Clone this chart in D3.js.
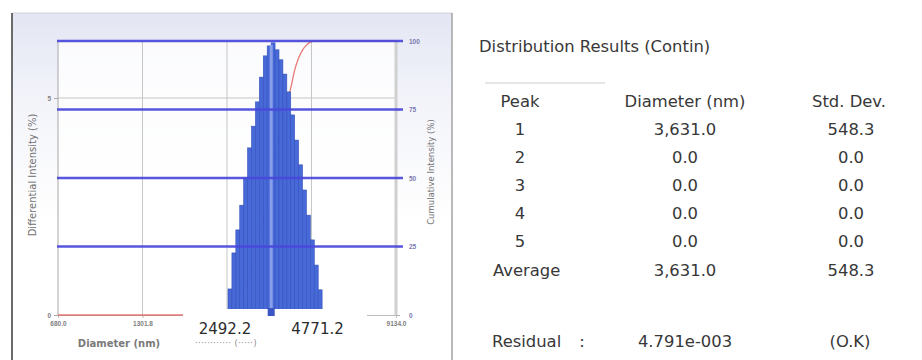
<!DOCTYPE html>
<html>
<head>
<meta charset="utf-8">
<script src="https://cdn.jsdelivr.net/npm/d3@7"></script>
<style>
  html, body { margin: 0; padding: 0; background: #fff; }
  svg { display: block; font-family: "DejaVu Sans", Verdana, sans-serif; }
</style>
</head>
<body>
<svg id="chart" width="922" height="360"></svg>
<script>
// ---- size distribution (intensity) ----
// bin edges, nm (log spaced)
const binEdges = [2511.4, 2588.2, 2667.4, 2749.0, 2833.1, 2919.8, 3009.1, 3101.2, 3196.1,
  3293.9, 3394.7, 3498.6, 3605.6, 3715.9, 3829.6, 3946.8, 4067.5, 4192.0, 4320.3,
  4452.5, 4588.7, 4729.1, 4873.8, 5022.9, 5176.6];
// differential intensity per bin, %
const intensity = [0.60, 1.43, 1.96, 2.53, 3.16, 3.85, 4.35, 4.91, 5.48, 5.97, 6.20, 6.27,
  6.11, 5.88, 5.55, 5.14, 4.61, 4.03, 3.46, 2.88, 2.30, 1.73, 1.15, 0.58];
// cumulative intensity, %
const cumDiameter = [680.0, 2511.4, 2588.2, 2667.4, 2749.0, 2833.1, 2919.8, 3009.1, 3101.2,
  3196.1, 3293.9, 3394.7, 3498.6, 3605.6, 3715.9, 3829.6, 3946.8, 4067.5, 4192.0, 4320.3,
  4452.5, 4588.7, 4729.1, 4873.8, 5022.9, 5176.6, 9134.0];
const cumulative = [0, 0, 0.8, 2.5, 4.8, 7.8, 11.5, 16.0, 21.2, 27.2, 34.0, 41.5, 49.5, 57.5,
  65.2, 72.0, 77.8, 82.8, 89.4, 93.8, 96.7, 98.5, 99.6, 100, 100, 100, 100];
const modeDiameter = 3500;

// axis ticks
const xTicks = [680.0, 1301.8, 2492.2, 4771.2, 9134.0];
const xTickLabels = ["680.0", "1301.8", "2492.2", "4771.2", "9134.0"];
const markedTicks = [2492.2, 4771.2];
const leftTicks = [0, 5];
const rightTicks = [0, 25, 50, 75, 100];

// ---- results table ----
const tableTitle = "Distribution Results (Contin)";
const tableHeaders = ["Peak", "Diameter (nm)", "Std. Dev."];
const peakLabels = ["1", "2", "3", "4", "5", "Average"];
const peakDiameters = [3631.0, 0.0, 0.0, 0.0, 0.0, 3631.0];
const peakStdDevs = [548.3, 0.0, 0.0, 0.0, 0.0, 548.3];
const residualValue = "4.791e-003";
const residualStatus = "(O.K)";

const svg = d3.select("#chart");

// ---------- panel ----------
const defs = svg.append("defs");
const grad = defs.append("linearGradient").attr("id", "panelFill")
  .attr("x1", 0).attr("y1", 0).attr("x2", 0).attr("y2", 1);
grad.append("stop").attr("offset", 0).attr("stop-color", "#e3e6f3");
grad.append("stop").attr("offset", 0.25).attr("stop-color", "#f3f4fa");
grad.append("stop").attr("offset", 0.6).attr("stop-color", "#ffffff");

const panel = { left: 12, top: 13, right: 452, bottom: 362 };
svg.append("rect").attr("x", panel.left).attr("y", panel.top)
  .attr("width", panel.right - panel.left).attr("height", panel.bottom - panel.top)
  .attr("fill", "url(#panelFill)");
svg.append("line").attr("x1", panel.left).attr("x2", panel.right)
  .attr("y1", panel.top).attr("y2", panel.top).attr("stroke", "#cfd2dc");
svg.append("line").attr("x1", panel.left).attr("x2", panel.left)
  .attr("y1", panel.top).attr("y2", panel.bottom).attr("stroke", "#6b6b6b").attr("stroke-width", 2);
svg.append("line").attr("x1", panel.right).attr("x2", panel.right)
  .attr("y1", panel.top).attr("y2", panel.bottom).attr("stroke", "#a3a3a3").attr("stroke-width", 1.5);

// ---------- scales ----------
const plot = { left: 58, right: 396, top: 41, bottom: 315 };
const x = d3.scaleLog().domain([680.0, 9134.0]).range([plot.left, plot.right]);
const yL = d3.scaleLinear().domain([0, 6.313]).range([plot.bottom, plot.top]);
const yR = d3.scaleLinear().domain([0, 100]).range([plot.bottom, plot.top]);

svg.append("rect").attr("x", plot.left).attr("y", plot.top)
  .attr("width", plot.right - plot.left).attr("height", plot.bottom - plot.top)
  .attr("fill", "#ffffff").attr("opacity", 0.8);

// grey grid
const grid = svg.append("g").attr("stroke", "#c6c6c6").attr("stroke-width", 1);
grid.selectAll("line.v").data(xTicks.slice(1, -1)).join("line")
  .attr("x1", d => x(d)).attr("x2", d => x(d))
  .attr("y1", plot.top).attr("y2", plot.bottom);
grid.selectAll("line.h").data(leftTicks.filter(d => d > 0)).join("line")
  .attr("x1", plot.left).attr("x2", plot.right)
  .attr("y1", d => yL(d)).attr("y2", d => yL(d));

// axes (the two marked ticks get enlarged labels further down)
const fmtTick = d => markedTicks.includes(d) ? "" : xTickLabels[xTicks.indexOf(d)];
const xAxis = svg.append("g").attr("transform", `translate(0,${plot.bottom})`)
  .call(d3.axisBottom(x).tickValues(xTicks).tickFormat(fmtTick).tickSize(3).tickPadding(3));
xAxis.select(".domain").attr("stroke", "#bdbdbd");
xAxis.selectAll(".tick line").attr("stroke", "#bdbdbd");
xAxis.selectAll("text").attr("font-size", 6.5).attr("font-weight", "bold").attr("fill", "#808080");

const lAxis = svg.append("g").attr("transform", `translate(${plot.left},0)`)
  .call(d3.axisLeft(yL).tickValues(leftTicks).tickFormat(d3.format("d")).tickSize(4).tickPadding(3));
lAxis.select(".domain").attr("stroke", "#a8a8a8").attr("d", `M0,${plot.top}V${plot.bottom}`);
lAxis.selectAll(".tick line").attr("stroke", "#a8a8a8");
lAxis.selectAll("text").attr("font-size", 6.5).attr("font-weight", "bold").attr("fill", "#808080");

const rAxis = svg.append("g").attr("transform", `translate(${plot.right},0)`)
  .call(d3.axisRight(yR).tickValues(rightTicks).tickFormat(d3.format("d")).tickSize(4).tickPadding(9));
rAxis.select(".domain").attr("stroke", "#d0d0d0").attr("stroke-width", 3)
  .attr("d", `M0,${plot.top}V${plot.bottom}`);
rAxis.selectAll(".tick line").attr("stroke", "#b0b0b0");
rAxis.selectAll("text").attr("font-size", 6.5).attr("font-weight", "bold").attr("fill", "#7a7ab0");

// cumulative curve (behind the histogram)
const cumLine = d3.line()
  .x((d, i) => x(cumDiameter[i]))
  .y(d => yR(d))
  .curve(d3.curveMonotoneX);
svg.append("path").attr("d", cumLine(cumulative))
  .attr("fill", "none").attr("stroke", "#e2504c").attr("stroke-width", 1.3).attr("opacity", 0.75);

// histogram
svg.append("g").selectAll("rect").data(intensity).join("rect")
  .attr("x", (d, i) => x(binEdges[i]))
  .attr("width", (d, i) => x(binEdges[i + 1]) - x(binEdges[i]))
  .attr("y", d => yL(d))
  .attr("height", d => yL(0) - yL(d))
  .attr("fill", "#4869d8").attr("stroke", "#3250ba").attr("stroke-width", 0.6);

// mode marker through the histogram
const peakIdx = intensity.indexOf(d3.max(intensity));
svg.append("rect")
  .attr("x", x(modeDiameter) - 1.5).attr("width", 3)
  .attr("y", yL(intensity[peakIdx]) + 2).attr("height", yL(0) - yL(intensity[peakIdx]) - 2)
  .attr("fill", "#9fb4f2").attr("opacity", 0.75);

// blue cumulative grid lines
svg.append("g").selectAll("line").data(rightTicks.filter(d => d > 0)).join("line")
  .attr("x1", plot.left - 1).attr("x2", plot.right + 7)
  .attr("y1", d => yR(d)).attr("y2", d => yR(d))
  .attr("stroke", "#4a48dc").attr("stroke-width", 2.6).attr("opacity", 0.92);

// label backdrop along the lower axis
svg.append("rect").attr("x", 183).attr("y", plot.bottom - 6)
  .attr("width", 184).attr("height", 46).attr("fill", "#ffffff");
svg.append("rect")
  .attr("x", x(modeDiameter) - 3.5).attr("width", 7)
  .attr("y", plot.bottom - 7).attr("height", 8)
  .attr("fill", "#3a55c4");

// enlarged tick values
svg.append("g").selectAll("text").data(markedTicks).join("text")
  .attr("x", (d, i) => x(d) + (i === 0 ? -2 : 6))
  .attr("y", 334)
  .attr("text-anchor", "middle")
  .attr("font-size", 15).attr("fill", "#2b2b2b")
  .text(d => xTickLabels[xTicks.indexOf(d)]);

// axis titles
svg.append("text").attr("x", 119).attr("y", 347).attr("text-anchor", "middle")
  .attr("font-size", 10).attr("font-weight", "bold").attr("fill", "#7a7a7a").text("Diameter (nm)");
svg.append("text").attr("x", 226).attr("y", 346).attr("text-anchor", "middle")
  .attr("font-size", 8).attr("fill", "#888").attr("letter-spacing", 0.5)
  .text("············ (·····)");
svg.append("text")
  .attr("transform", "translate(36,175) rotate(-90)")
  .attr("text-anchor", "middle").attr("font-size", 10).attr("fill", "#707070")
  .text("Differential Intensity (%)");
svg.append("text")
  .attr("transform", "translate(434,172) rotate(-90)")
  .attr("text-anchor", "middle").attr("font-size", 8.5).attr("fill", "#707070")
  .text("Cumulative Intensity (%)");

// ---------- results table ----------
const T = svg.append("g").attr("font-size", 16.4).attr("fill", "#383838");
T.append("text").attr("x", 479).attr("y", 52).text(tableTitle);
T.append("line").attr("x1", 485).attr("x2", 605).attr("y1", 83).attr("y2", 83)
  .attr("stroke", "#cccccc");

const colX = [520, 685, 849];
T.selectAll("text.hdr").data(tableHeaders).join("text").attr("class", "hdr")
  .attr("x", (d, i) => colX[i]).attr("y", 107).attr("text-anchor", "middle").text(d => d);

const rowY = i => 135 + i * 28.1;
const fmt = d3.format(",.1f");
T.selectAll("text.lab").data(peakLabels).join("text").attr("class", "lab")
  .attr("x", d => d === "Average" ? 493 : colX[0])
  .attr("text-anchor", d => d === "Average" ? "start" : "middle")
  .attr("y", (d, i) => rowY(i)).text(d => d);
T.selectAll("text.dia").data(peakDiameters).join("text").attr("class", "dia")
  .attr("x", colX[1]).attr("y", (d, i) => rowY(i)).attr("text-anchor", "middle").text(fmt);
T.selectAll("text.sd").data(peakStdDevs).join("text").attr("class", "sd")
  .attr("x", colX[2] + 2).attr("y", (d, i) => rowY(i)).attr("text-anchor", "middle").text(fmt);

T.append("text").attr("x", 492).attr("y", 347).text("Residual");
T.append("text").attr("x", 582).attr("y", 347).attr("text-anchor", "middle").text(":");
T.append("text").attr("x", colX[1]).attr("y", 347).attr("text-anchor", "middle").text(residualValue);
T.append("text").attr("x", colX[2] + 1).attr("y", 347).attr("text-anchor", "middle").text(residualStatus);
</script>
</body>
</html>
